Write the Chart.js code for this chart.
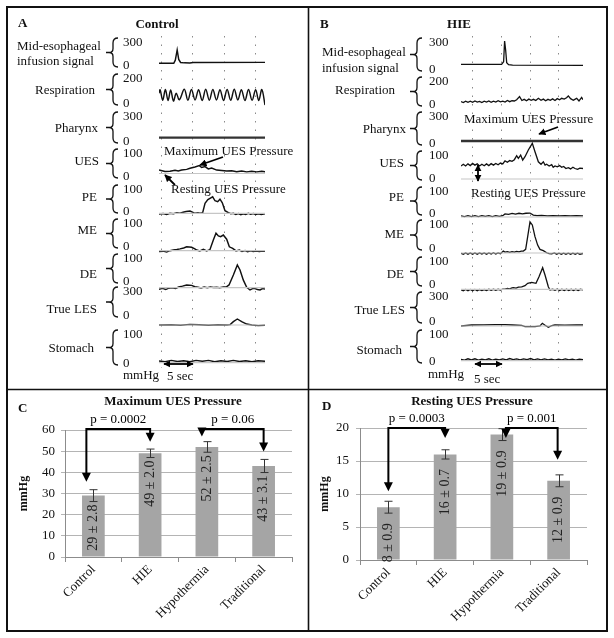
<!DOCTYPE html>
<html>
<head>
<meta charset="utf-8">
<script src="https://cdn.jsdelivr.net/npm/chart.js@4.4.1/dist/chart.umd.min.js"></script>
<style>
	body { margin: 0; background: #fff; }
	#page { position: relative; width: 614px; height: 638px; overflow: hidden; font-family: 'Liberation Serif', 'Times New Roman', serif; color: #111; }
	#page canvas, #page svg { position: absolute; }
	.t { position: absolute; font-size: 13px; line-height: 15px; white-space: nowrap; }
	.b { font-weight: bold; }
</style>
</head>
<body>
<div id="page">
	<canvas id="trA" width="106" height="332" style="left:159px;top:36px"></canvas>
	<canvas id="trB" width="122" height="332" style="left:461px;top:36px"></canvas>
	<canvas id="barC" width="300" height="240" style="left:8px;top:390px"></canvas>
	<canvas id="barD" width="297" height="240" style="left:309px;top:390px"></canvas>
	<svg id="deco" width="614" height="638" style="left:0;top:0"></svg>
</div>
<script>
// Каналы манометрии
const channels = ['Respiration', 'Pharynx', 'UES', 'PE', 'ME', 'DE', 'True LES', 'Stomach'];
const channelMax = [300, 200, 300, 100, 100, 100, 100, 300, 100];

// Контроль: [сек, мм рт. ст.]
const ctlMid = [[-0.48,9],[1.9,9],[2.15,50],[2.45,183],[2.7,60],[3.0,20],[3.6,15],[4.5,14],[5.0,20],[16.61,21]];
const ctlResp = [[-0.48,70],[-0.3,98],[0.12,14],[0.55,100],[0.98,12],[1.4,96],[1.85,8],[2.3,70],[2.8,18],[3.6,102],[4.18,14],[4.75,100],[5.33,16],[5.9,98],[6.48,12],[7.05,102],[7.63,14],[8.2,100],[8.78,16],[9.35,98],[9.93,12],[10.5,100],[11.08,14],[11.65,102],[12.23,16],[12.8,98],[13.38,12],[13.95,100],[14.53,14],[15.1,98],[15.6,12],[16.1,100],[16.61,-24]];
const ctlPhar = [[-0.48,28],[16.61,28]];
const ctlUes = [[-0.48,15],[-0.32,15],[0.48,9],[1.29,10],[2.1,14],[2.63,11],[3.17,15],[3.98,18],[4.52,23],[5.32,28],[6.02,34],[6.4,26],[6.94,30],[7.47,20],[8.01,24],[8.82,15],[9.62,13],[10.43,11],[11.24,12],[12.04,8],[12.85,11],[13.66,7],[14.46,10],[15.27,7],[16.08,10],[16.61,8]];
const ctlPe = [[-0.48,-3],[0.2,-1],[0.75,-5],[1.3,0],[1.83,-2],[2.4,2],[2.9,0],[3.4,5],[3.9,8],[4.52,10],[5.0,4],[5.32,0],[5.8,2],[6.13,0],[6.56,3],[6.94,45],[7.4,62],[7.74,68],[8.17,75],[8.55,57],[8.98,53],[9.35,64],[9.73,48],[10.16,12],[10.7,3],[11.1,-2],[11.51,0],[11.9,-5],[12.31,-1],[12.7,-6],[13.12,-2],[13.5,-5],[13.92,0],[14.3,-4],[14.73,-1],[15.1,-5],[15.54,-2],[16.0,-5],[16.61,-2]];
const ctlMe = [[-0.48,-4],[0.2,-2],[0.75,-6],[1.3,0],[1.83,3],[2.4,5],[2.9,8],[3.5,12],[3.98,17],[4.78,15],[5.3,8],[5.59,3],[6.1,-1],[6.67,6],[7.2,-1],[7.74,5],[8.28,47],[8.71,76],[9.09,64],[9.46,61],[9.89,68],[10.43,50],[10.86,17],[11.4,10],[11.94,-1],[12.47,3],[12.9,-3],[13.4,1],[13.8,-4],[14.3,0],[14.7,-4],[15.2,-1],[15.7,-4],[16.2,-1],[16.61,-3]];
const ctlDe = [[-0.48,-7],[0.1,-3],[0.6,-8],[1.1,-2],[1.6,0],[2.2,-3],[2.7,3],[3.3,7],[3.98,12],[4.78,10],[5.3,4],[5.8,2],[6.3,-1],[6.8,3],[7.3,0],[7.8,3],[8.3,1],[8.82,2],[9.3,0],[9.9,3],[10.4,4],[10.81,12],[11.51,55],[12.15,99],[12.58,77],[13.12,33],[13.66,2],[14.19,-10],[14.6,-4],[15.0,-4],[15.4,-8],[15.81,-10],[16.2,-4],[16.61,-6]];
const ctlLes = [[-0.48,0],[1.5,4],[3.0,-4],[4.5,8],[6.0,2],[7.5,-3],[9.0,3],[10.5,0],[11.0,5],[11.51,42],[12.15,75],[12.85,42],[13.66,12],[14.5,0],[15.5,-8],[16.61,-2]];
const ctlStom = [[-0.48,6],[0.5,3],[1.5,8],[2.5,4],[3.5,7],[4.5,3],[5.5,8],[6.5,5],[7.5,8],[8.5,3],[9.5,7],[10.5,4],[11.5,8],[12.5,4],[13.5,7],[14.5,3],[15.5,7],[16.61,5]];

// HIE
const hieMid = [[-1.9,41],[5.1,40],[5.45,70],[5.62,300],[5.8,200],[5.98,60],[6.3,38],[7.0,33],[19.14,30]];
const hieResp = [[-1.9,14],[-1.5,6],[-1.1,18],[-0.7,8],[-0.3,18],[0.1,8],[0.5,20],[0.9,10],[1.3,16],[1.7,6],[2.1,18],[2.5,10],[2.9,20],[3.3,8],[3.7,18],[4.1,10],[4.5,22],[4.9,12],[5.3,18],[5.7,10],[6.1,24],[6.5,14],[6.9,22],[7.3,20],[7.7,30],[8.2,57],[8.6,24],[9.0,34],[9.4,22],[9.8,36],[10.2,26],[10.6,34],[11.0,24],[11.44,43],[11.9,26],[12.3,36],[12.7,22],[13.1,34],[13.5,26],[13.9,38],[14.31,24],[14.7,40],[15.1,30],[15.46,43],[15.9,36],[16.3,48],[16.61,63],[17.0,40],[17.47,26],[17.8,36],[18.05,43],[18.45,20],[18.91,50],[19.14,30]];
const hiePhar = [[-1.9,8],[19.14,8]];
const hieUes = [[-1.9,62],[-1.5,70],[-1.1,62],[-0.7,72],[-0.3,64],[0.1,74],[0.5,66],[0.9,72],[1.3,62],[1.7,70],[2.1,63],[2.5,72],[2.9,64],[3.3,73],[3.7,66],[4.1,74],[4.5,68],[4.9,76],[5.3,72],[5.69,86],[6.1,80],[6.5,88],[6.9,84],[7.3,92],[7.7,111],[7.99,98],[8.39,114],[8.74,90],[9.14,106],[9.71,138],[10.4,170],[10.86,130],[11.44,82],[11.9,70],[12.3,82],[12.6,66],[12.87,70],[13.3,62],[13.74,68],[14.0,56],[14.31,62],[14.7,58],[15.1,64],[15.46,56],[15.8,60],[16.2,50],[16.61,54],[17.0,48],[17.4,56],[17.76,50],[18.2,46],[18.6,52],[19.14,50]];
const hiePe = [[-1.9,5],[-1.3,2],[-0.7,6],[-0.1,2],[0.5,6],[1.1,2],[1.7,6],[2.3,3],[2.9,6],[3.5,2],[4.1,6],[4.7,3],[5.3,6],[5.69,14],[6.3,12],[6.9,16],[7.5,13],[8.1,17],[8.7,14],[9.3,17],[10.0,18],[10.57,9],[11.2,6],[12,7],[13,5],[14,6],[15,5],[16,6],[17,5],[18,6],[19.14,5]];
const hieMe = [[-1.9,-1],[-1.5,-5],[-1.1,0],[-0.7,-5],[-0.3,0],[0.1,-5],[0.5,0],[0.9,-5],[1.3,0],[1.7,-4],[2.1,0],[2.5,-5],[2.9,0],[3.3,-4],[3.7,1],[4.1,-4],[4.5,0],[4.9,-3],[5.4,8],[5.69,4],[6.1,6],[6.5,3],[6.9,6],[7.3,4],[7.7,7],[8.1,5],[8.5,8],[8.85,8],[9.25,15],[9.6,68],[10.0,130],[10.4,117],[10.86,68],[11.32,33],[11.72,15],[12.3,10],[12.87,1],[13.3,-3],[13.74,-4],[14.2,0],[14.6,-5],[15.0,-1],[15.4,-5],[15.8,-1],[16.2,-5],[16.6,-1],[17.0,-5],[17.4,-1],[17.8,-5],[18.2,-1],[18.6,-5],[19.14,-2]];
const hieDe = [[-1.9,-2],[-1.5,-6],[-1.1,-1],[-0.7,-6],[-0.3,-1],[0.1,-6],[0.5,-1],[0.9,-6],[1.3,-1],[1.7,-5],[2.1,-1],[2.5,-5],[2.9,0],[3.3,-4],[3.7,0],[4.1,-4],[4.5,0],[4.9,-3],[5.3,1],[5.69,1],[6.1,4],[6.5,2],[6.9,6],[7.13,7],[7.6,5],[8.0,9],[8.56,11],[9.14,16],[9.6,26],[10.29,30],[11.03,26],[11.55,55],[12.18,94],[12.59,62],[13.16,11],[13.45,-3],[13.9,0],[14.31,-4],[14.7,1],[15.1,-5],[15.5,0],[15.9,-5],[16.3,0],[16.7,-5],[17.1,0],[17.5,-5],[17.9,0],[18.3,-5],[18.7,0],[19.14,-3]];
const hieLes = [[-1.9,0],[-0.06,12],[2,14],[4,16],[5.69,16],[7,12],[8.56,8],[9.14,-8],[10.86,-8],[11.72,0],[12.13,32],[12.59,10],[13.16,-16],[13.74,4],[14.31,12],[16,10],[18,12],[19.14,12]];
const hieStom = [[-1.9,5],[-1.3,2],[-0.7,7],[-0.1,3],[0.5,7],[1.1,2],[1.7,6],[2.3,3],[2.9,7],[3.5,2],[4.1,6],[4.7,3],[5.3,7],[5.9,3],[6.5,8],[7.1,4],[7.7,7],[8.3,3],[8.9,7],[9.5,4],[10.1,8],[10.7,3],[11.3,7],[11.9,3],[12.5,7],[13.1,3],[13.7,6],[14.3,2],[14.9,6],[15.5,3],[16.1,7],[16.7,3],[17.3,6],[17.9,2],[18.5,6],[19.14,4]];

// Столбики C и D
const groups = ['Control', 'HIE', 'Hypothermia', 'Traditional'];
const maxUes = [29, 49, 52, 43];
const maxUesSem = [2.8, 2.0, 2.5, 3.1];
const restUes = [8, 16, 19, 12];
const restUesSem = [0.9, 0.7, 0.9, 0.9];
const cmpPairs = [[0, 1], [2, 3]];
const maxPvals = ['p = 0.0002', 'p = 0.06'];
const restPvals = ['p = 0.0003', 'p = 0.001'];
const maxArrowTips = [35.5, 54.5, 56.9, 49.8];
const restArrowTips = [10.4, 18.5, 18.5, 15.2];

Chart.defaults.font.family = "'Liberation Serif', 'Times New Roman', serif";
Chart.defaults.color = '#111';

// Раскладка каналов (пиксели страницы)
const layA = {
	top: 36, h: 332, xMin: -0.48, xMax: 16.61, lw: 1.45,
	p0: [64, 102, 140, 173.5, 213.3, 250.7, 287.7, 325, 362.7],
	ppu: [0.0767, 0.125, 0.0833, 0.23, 0.22, 0.23, 0.23, 0.08, 0.29]
};
const layB = {
	top: 36, h: 332, xMin: -1.9, xMax: 19.14, lw: 1.3,
	p0: [68, 103.3, 141.7, 179, 217, 253, 289.3, 326, 360.7],
	ppu: [0.09, 0.1167, 0.089, 0.21, 0.22, 0.24, 0.23, 0.0833, 0.27]
};

function traceChart(id, series, lay) {
	const scales = {
		x: {
			type: 'linear', min: lay.xMin, max: lay.xMax,
			afterBuildTicks: (s) => { s.ticks = [0, 5, 10, 15].map(v => ({ value: v })); },
			ticks: { display: false },
			grid: { color: '#8a8a8a', lineWidth: 1, drawTicks: false },
			border: { display: false, dash: [1.5, 7] }
		}
	};
	const datasets = [];
	series.forEach((pts, i) => {
		const yid = 'y' + i;
		const p0 = lay.p0[i] - lay.top;
		const k = lay.ppu[i];
		scales[yid] = { display: false, min: -(lay.h - p0) / k, max: p0 / k };
		if (i >= 3) {
			datasets.push({
				data: [{ x: lay.xMin, y: 0 }, { x: lay.xMax, y: 0 }],
				yAxisID: yid, borderColor: '#c6c6c6', borderWidth: 1.2, pointRadius: 0
			});
		}
		datasets.push({
			data: pts.map(([x, y]) => ({ x, y })),
			yAxisID: yid,
			borderColor: i === 2 ? '#333' : '#111',
			borderWidth: i === 2 ? 2.4 : lay.lw,
			pointRadius: 0,
			tension: i === 1 && id === 'trA' ? 0.35 : 0
		});
	});
	new Chart(document.getElementById(id), {
		type: 'line',
		data: { datasets },
		options: {
			responsive: false, animation: false, events: [],
			layout: { padding: 0 },
			plugins: { legend: { display: false }, tooltip: { enabled: false } },
			scales
		}
	});
}

traceChart('trA', [ctlMid, ctlResp, ctlPhar, ctlUes, ctlPe, ctlMe, ctlDe, ctlLes, ctlStom], layA);
traceChart('trB', [hieMid, hieResp, hiePhar, hieUes, hiePe, hieMe, hieDe, hieLes, hieStom], layB);

function barExtras(o) {
	return {
		id: 'barExtras',
		afterDatasetsDraw(chart) {
			const ctx = chart.ctx;
			const y = chart.scales.y;
			const meta = chart.getDatasetMeta(0);
			ctx.save();
			meta.data.forEach((bar, i) => {
				const v = o.vals[i], e = o.sems[i];
				const yt = y.getPixelForValue(v + e), yb = y.getPixelForValue(v - e);
				const x = Math.round(bar.x) + 0.5;
				ctx.save();
				ctx.translate(bar.x, yb + o.gap);
				ctx.rotate(-Math.PI / 2);
				ctx.font = "14px 'Liberation Serif'";
				ctx.fillStyle = '#222';
				ctx.textAlign = 'right';
				ctx.textBaseline = 'middle';
				ctx.fillText(v + ' ± ' + e.toFixed(1), 0, 0);
				ctx.restore();
				ctx.strokeStyle = '#333';
				ctx.lineWidth = 1;
				ctx.beginPath();
				ctx.moveTo(x, yt); ctx.lineTo(x, yb);
				ctx.moveTo(x - 4, yt); ctx.lineTo(x + 4, yt);
				ctx.moveTo(x - 4, yb); ctx.lineTo(x + 4, yb);
				ctx.stroke();
			});
			const yTop = y.getPixelForValue(o.top);
			o.pairs.forEach(([a, b], k) => {
				const xa = meta.data[a].x + o.dx[a], xb = meta.data[b].x + o.dx[b];
				const ya = y.getPixelForValue(o.tips[a]), yb2 = y.getPixelForValue(o.tips[b]);
				ctx.strokeStyle = '#000';
				ctx.lineWidth = 2;
				ctx.beginPath();
				ctx.moveTo(xa, ya - 8); ctx.lineTo(xa, yTop); ctx.lineTo(xb, yTop); ctx.lineTo(xb, yb2 - 8);
				ctx.stroke();
				ctx.fillStyle = '#000';
				[[xa, ya], [xb, yb2]].forEach(([ax, ay]) => {
					ctx.beginPath();
					ctx.moveTo(ax - 4.5, ay - 9); ctx.lineTo(ax + 4.5, ay - 9); ctx.lineTo(ax, ay);
					ctx.closePath();
					ctx.fill();
				});
				ctx.font = "13px 'Liberation Serif'";
				ctx.textAlign = 'center';
				ctx.textBaseline = 'middle';
				ctx.fillText(o.pvals[k], (xa + xb) / 2, yTop - 9);
			});
			ctx.restore();
		}
	};
}

function barChart(id, vals, sems, tips, pvals, cfg) {
	new Chart(document.getElementById(id), {
		type: 'bar',
		data: {
			labels: groups,
			datasets: [{ data: vals, backgroundColor: '#a5a5a5', barPercentage: 0.4, categoryPercentage: 1 }]
		},
		options: {
			responsive: false, animation: false, events: [],
			layout: { padding: { left: 0, right: cfg.pr, top: cfg.pt, bottom: 0 } },
			plugins: { legend: { display: false }, tooltip: { enabled: false } },
			scales: {
				x: {
					grid: { offset: true, drawOnChartArea: false, tickLength: 5, color: '#8c8c8c' },
					border: { color: '#8c8c8c' },
					ticks: { font: { size: 13 }, color: '#111', minRotation: 45, maxRotation: 45, autoSkip: false, padding: 0 },
					afterFit: (s) => { s.height = cfg.xh; }
				},
				y: {
					min: 0, max: cfg.max,
					ticks: { stepSize: cfg.step, font: { size: 13 }, color: '#111', padding: cfg.tpad },
					grid: { color: '#b4b4b4', tickLength: 4 },
					border: { color: '#8c8c8c' },
					title: { display: true, text: 'mmHg', font: { size: 12, weight: 'bold' }, color: '#111', padding: { top: 9, bottom: 0 } },
					afterFit: (s) => { s.width = cfg.yw; }
				}
			}
		},
		plugins: [barExtras({ vals, sems, tips, pvals, pairs: cmpPairs, top: cfg.top, gap: cfg.gap, dx: cfg.dx })]
	});
}

barChart('barC', maxUes, maxUesSem, maxArrowTips, maxPvals,
	{ max: 60, step: 10, pr: 16, pt: 40, xh: 73, yw: 57, tpad: 6, top: 60.5, gap: 3, dx: [-7, 0, -5, 0] });
barChart('barD', restUes, restUesSem, restArrowTips, restPvals,
	{ max: 20, step: 5, pr: 19, pt: 38, xh: 70, yw: 51, tpad: 7, top: 20, gap: 10, dx: [0, 0, 4, -1] });

// Подписи
const page = document.getElementById('page');
function addText(txt, x, y, align, cls) {
	const d = document.createElement('div');
	d.className = 't' + (cls ? ' ' + cls : '');
	d.textContent = txt;
	if (align === 'r') { d.style.right = (614 - x) + 'px'; d.style.transform = 'translateY(-50%)'; }
	else if (align === 'c') { d.style.left = x + 'px'; d.style.transform = 'translate(-50%,-50%)'; }
	else { d.style.left = x + 'px'; d.style.transform = 'translateY(-50%)'; }
	d.style.top = y + 'px';
	page.appendChild(d);
	return d;
}

const namesA = { right: [95, 98, 99, 97, 97, 97, 97, 94], y: [89, 127, 160, 196, 229, 273, 308, 347] };
const namesB = { right: [395, 406, 404, 404, 404, 404, 405, 402], y: [89, 128, 162, 196, 233, 273, 309, 349] };
const ticksA = { x: 123, top: [41, 77, 115, 152, 188, 222, 257, 290, 333], zero: [64, 102, 140, 175, 210, 245, 280, 314, 362] };
const ticksB = { x: 429, top: [41, 80, 115, 154, 190, 223, 260, 295, 333], zero: [68, 103, 142, 177, 212, 247, 283, 320, 360] };

let svg = '<defs><marker id="ah" viewBox="0 0 10 10" refX="9" refY="5" markerWidth="4" markerHeight="4" orient="auto-start-reverse"><path d="M0,0 L10,5 L0,10 z" fill="#000"/></marker></defs>';

function panelLabels(names, ticks, braceX, midLeft, midY) {
	addText('Mid-esophageal', midLeft, midY[0], 'l');
	addText('infusion signal', midLeft, midY[1], 'l');
	channels.forEach((n, i) => addText(n, names.right[i], names.y[i], 'r'));
	channelMax.forEach((m, i) => {
		addText(String(m), ticks.x, ticks.top[i], 'l');
		addText('0', ticks.x, ticks.zero[i], 'l');
		const t = ticks.top[i] - 3, b = ticks.zero[i] + 3, mid = (t + b) / 2, x = braceX, s = x - 5;
		svg += `<path d="M${x} ${t} Q${s} ${t} ${s} ${t + 5} L${s} ${mid - 4} Q${s} ${mid} ${x - 9} ${mid} L${x - 12} ${mid} M${x - 9} ${mid} Q${s} ${mid} ${s} ${mid + 4} L${s} ${b - 5} Q${s} ${b} ${x} ${b}" fill="none" stroke="#111" stroke-width="1.3"/>`;
	});
}
panelLabels(namesA, ticksA, 118, 17, [45, 60]);
panelLabels(namesB, ticksB, 422, 322, [51, 67]);

addText('A', 18, 22, 'l', 'b');
addText('Control', 157, 23, 'c', 'b');
addText('B', 320, 23, 'l', 'b');
addText('HIE', 459, 23, 'c', 'b');
addText('Maximum UES Pressure', 164, 150, 'l');
addText('Resting UES Pressure', 171, 188, 'l');
addText('Maximum UES Pressure', 464, 118, 'l');
addText('Resting UES Pressure', 471, 192, 'l');
addText('mmHg', 123, 374, 'l');
addText('5 sec', 167, 375, 'l');
addText('mmHg', 428, 373, 'l');
addText('5 sec', 474, 378, 'l');
addText('C', 18, 407, 'l', 'b');
addText('D', 322, 405, 'l', 'b');
addText('Maximum UES Pressure', 173, 400, 'c', 'b');
addText('Resting UES Pressure', 472, 400, 'c', 'b');

// Рамки и стрелки
svg += '<rect x="7" y="7" width="600" height="624" fill="none" stroke="#111" stroke-width="2"/>';
svg += '<line x1="308.5" y1="7" x2="308.5" y2="631" stroke="#111" stroke-width="1.6"/>';
svg += '<line x1="7" y1="389.5" x2="607" y2="389.5" stroke="#111" stroke-width="1.6"/>';
const arrows = [
	[223, 157, 200, 165, false], [175, 185, 165, 175, false],
	[558, 127, 539, 134, false], [478, 165, 478, 181, true],
	[164, 364, 193, 364, true], [475, 364, 502, 364, true]
];
arrows.forEach(([x1, y1, x2, y2, both]) => {
	svg += `<line x1="${x1}" y1="${y1}" x2="${x2}" y2="${y2}" stroke="#000" stroke-width="1.8" marker-end="url(#ah)"${both ? ' marker-start="url(#ah)"' : ''}/>`;
});
document.getElementById('deco').innerHTML = svg;
</script>
</body>
</html>
